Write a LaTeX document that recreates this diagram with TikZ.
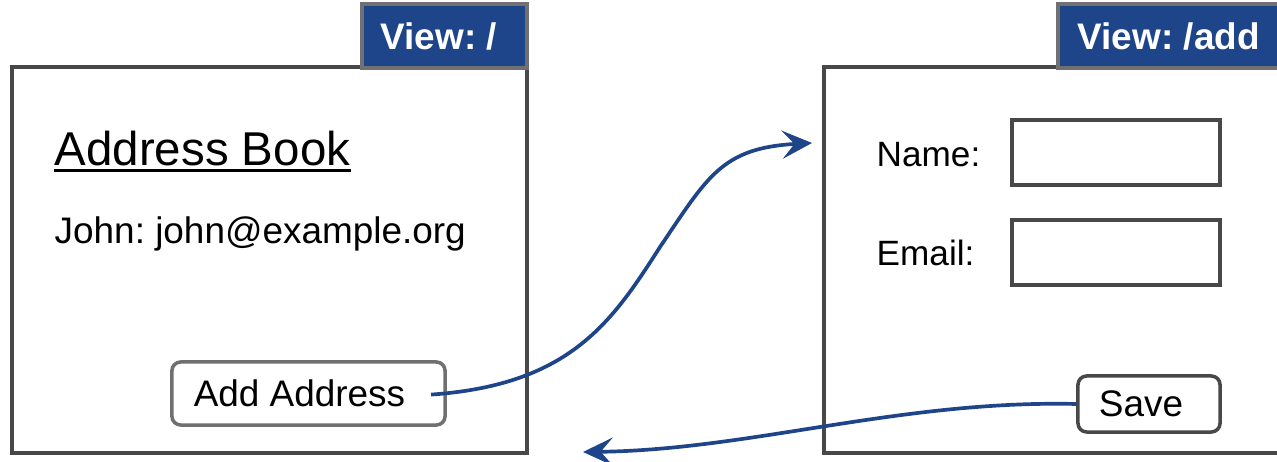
\documentclass[tikz,border=0pt]{standalone}
\usepackage{fontspec}
\setmainfont{Liberation Sans}
\usetikzlibrary{arrows.meta}
\usetikzlibrary{calc}
\usetikzlibrary{positioning}
\frenchspacing
\definecolor{viewblue}{RGB}{30,69,137}
\definecolor{framegray}{RGB}{72,72,72}
\definecolor{tabgray}{RGB}{112,112,112}
\tikzset{
  pageframe/.style={draw=framegray, line width=1pt},
  viewtab/.style={fill=viewblue, draw=tabgray, line width=1pt},
  tabtext/.style={anchor=west, text=white, font=\fontsize{10.5}{12}\selectfont\bfseries, inner sep=0pt},
  bodytext/.style={anchor=base west, inner sep=0pt, font=\fontsize{10.5}{12}\selectfont},
  button/.style={draw=tabgray, line width=1pt, rounded corners=2.5pt, fill=white,
                 font=\fontsize{10.5}{12}\selectfont},
  field/.style={draw=framegray, line width=1pt, minimum width=2.08cm, minimum height=0.65cm},
  link/.style={draw=viewblue, line width=1.05pt,
               -{Stealth[length=8.5pt, width=8pt, inset=3.5pt]}}
}

\begin{document}
\begin{tikzpicture}[x=0.01cm, y=-0.01cm]
  \useasboundingbox (0,0) rectangle (1277,462);

  % page "/"
  \begin{scope}
    \draw[pageframe] (12,67) rectangle (527,453);
    \filldraw[viewtab] (362,4) rectangle (527,68);
    \node[tabtext] (tableft) at (380,37) {View: /};
    \node[bodytext, font=\fontsize{13.5}{16}\selectfont] (title) at (54,166) {Address Book};
    \draw[line width=0.9pt] ($(title.base west)+(0,4.5)$) -- ($(title.base east)+(0,4.5)$);
    \node[bodytext] (entry) at (54,244) {John: john@example.org};
    \node[button, minimum width=2.73cm, minimum height=0.63cm] (addbtn) at (308.5,393.5) {Add Address\kern0.18cm};
  \end{scope}

  % page "/add"
  \begin{scope}
    \draw[pageframe] (824,67) rectangle (1282,453);
    \filldraw[viewtab] (1058,4) rectangle (1282,68);
    \node[tabtext] (tabright) at (1077,37) {View: /add};
    \node[bodytext, font=\fontsize{10}{12}\selectfont] (namelabel) at (876,167) {Name:};
    \node[bodytext, font=\fontsize{10}{12}\selectfont] (maillabel) at (876,266) {Email:};
    \node[field] (namefield) at (1116,152.5) {};
    \node[field] (mailfield) at (1116,252.5) {};
    \node[button, draw=framegray, minimum width=1.42cm, minimum height=0.56cm] (savebtn) at (1149,404) {Save\kern0.16cm};
  \end{scope}

  % navigation
  \coordinate (addtarget) at (812,143);
  \coordinate (backtarget) at (583,452);
  \draw[link, shorten <=-4.5pt] (addbtn.east) .. controls (570,385) and (612,322) .. (660,247)
        .. controls (708,176) and (722,148) .. (addtarget);
  \draw[link] (savebtn.west) .. controls (900,400) and (750,450) .. (backtarget);
\end{tikzpicture}
\end{document}
